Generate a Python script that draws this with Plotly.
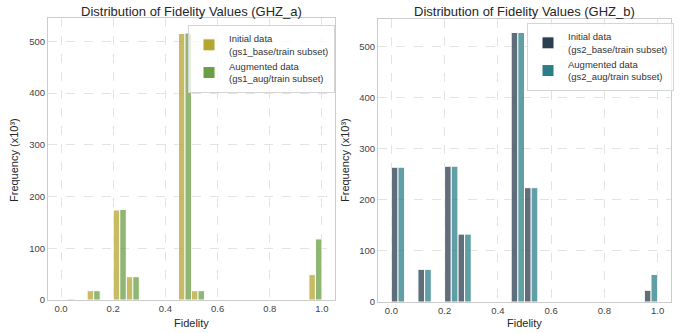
import plotly.graph_objects as go

bin_starts = [round(i * 0.05, 2) for i in range(20)]
bin_width = 0.05

a_initial = [0, 0, 18, 0, 174, 45, 0, 0, 0, 515, 18, 0, 0, 0, 0, 0, 0, 0, 0, 49]
a_augmented = [2, 0, 18, 0, 175, 45, 0, 0, 0, 516, 18, 0, 0, 0, 0, 0, 0, 0, 0, 118]
b_initial = [264, 0, 64, 0, 266, 133, 0, 0, 0, 528, 224, 0, 0, 0, 0, 0, 0, 0, 0, 23]
b_augmented = [264, 0, 64, 0, 266, 133, 0, 0, 0, 528, 224, 0, 0, 0, 0, 0, 0, 0, 0, 54]

x_ticks = [0.0, 0.2, 0.4, 0.6, 0.8, 1.0]
x_tick_labels = ["0.0", "0.2", "0.4", "0.6", "0.8", "1.0"]
y_ticks = [0, 100, 200, 300, 400, 500]

titles = ["Distribution of Fidelity Values (GHZ_a)", "Distribution of Fidelity Values (GHZ_b)"]
names_a = ["Initial data<br>(gs1_base/train subset)", "Augmented data<br>(gs1_aug/train subset)"]
names_b = ["Initial data<br>(gs2_base/train subset)", "Augmented data<br>(gs2_aug/train subset)"]

colors_a = ["#b5a632", "#6a9e45"]
colors_b = ["#2c3e50", "#2a7f87"]

W, H = 681, 333
FONT = "Liberation Sans, Arial, sans-serif"

fig = go.Figure()

def add_pair(vals_init, vals_aug, names, colors, xa, ya, legend):
    half = bin_width / 2
    for vals, name, col, off in [(vals_init, names[0], colors[0], 0.0), (vals_aug, names[1], colors[1], half)]:
        fig.add_trace(go.Bar(
            x=bin_starts, y=vals, width=half, offset=off,
            name=name, xaxis=xa, yaxis=ya, legend=legend,
            marker=dict(color=col, opacity=0.75, line=dict(color="white", width=1)),
            hoverinfo="x+y",
        ))

add_pair(a_initial, a_augmented, names_a, colors_a, "x", "y", "legend")
add_pair(b_initial, b_augmented, names_b, colors_b, "x2", "y2", "legend2")

axis_common = dict(
    showgrid=True, gridcolor="#e3e3e3", griddash="dash", gridwidth=1,
    showline=True, linecolor="#cccccc", linewidth=1, mirror=True,
    ticks="", zeroline=False, automargin=False,
    tickfont=dict(family=FONT, size=9.5, color="#444444"),
)

d1 = [48 / W, 335 / W]
d2 = [378 / W, 671 / W]
yd1 = [1 - 300 / H, 1 - 18 / H]
yd2 = [1 - 302 / H, 1 - 19 / H]

legend_common = dict(
    xanchor="right", yanchor="top",
    bgcolor="rgba(255,255,255,0.75)", bordercolor="#d5d5d5", borderwidth=1,
    font=dict(family=FONT, size=9.5, color="#333333"), tracegroupgap=2, itemwidth=30,
)

fig.update_layout(
    width=W, height=H,
    margin=dict(l=0, r=0, t=0, b=0, autoexpand=False),
    paper_bgcolor="white", plot_bgcolor="white",
    barmode="overlay",
    font=dict(family=FONT, color="#333333"),
    xaxis=dict(domain=d1, range=[-0.05, 1.05], tickvals=x_ticks, ticktext=x_tick_labels, anchor="y", **axis_common),
    yaxis=dict(domain=yd1, range=[0, 545], tickvals=y_ticks, anchor="x", **axis_common),
    xaxis2=dict(domain=d2, range=[-0.05, 1.05], tickvals=x_ticks, ticktext=x_tick_labels, anchor="y2", **axis_common),
    yaxis2=dict(domain=yd2, range=[0, 554.4], tickvals=y_ticks, anchor="x2", **axis_common),
    legend=dict(x=335 / W, y=1 - 25 / H, **legend_common),
    legend2=dict(x=674 / W, y=1 - 23 / H, **legend_common),
)

ann = []
for i, (d, yd, t) in enumerate([(d1, yd1, titles[0]), (d2, yd2, titles[1])]):
    cx = (d[0] + d[1]) / 2
    ann.append(dict(text=t, x=cx, y=1 - 11 / H, xref="paper", yref="paper", showarrow=False,
                    xanchor="center", yanchor="middle", font=dict(family=FONT, size=13, color="#262626")))
    ann.append(dict(text="Fidelity", x=cx, y=1 - 323 / H, xref="paper", yref="paper", showarrow=False,
                    xanchor="center", yanchor="middle", font=dict(family=FONT, size=11, color="#262626")))
ann.append(dict(text="Frequency (x10³)", x=14 / W, y=1 - 160 / H, xref="paper", yref="paper", showarrow=False,
                textangle=-90, xanchor="center", yanchor="middle", font=dict(family=FONT, size=11, color="#262626")))
ann.append(dict(text="Frequency (x10³)", x=345 / W, y=1 - 160 / H, xref="paper", yref="paper", showarrow=False,
                textangle=-90, xanchor="center", yanchor="middle", font=dict(family=FONT, size=11, color="#262626")))
fig.update_layout(annotations=ann)

fig.write_html("out.html", config={"displayModeBar": False},
               post_script="document.body.style.margin='0';document.body.style.overflow='hidden';")
